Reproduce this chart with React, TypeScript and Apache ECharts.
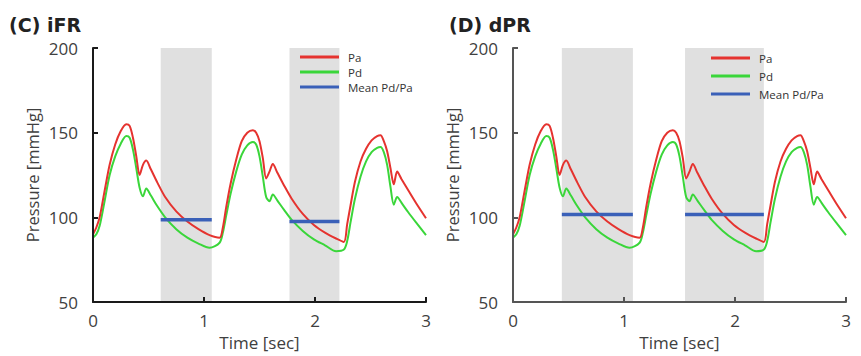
import React, { useEffect, useRef } from "react";
import * as echarts from "echarts";

// Time samples [s]
const TIME = [
  0, 0.03, 0.06, 0.1, 0.15, 0.2, 0.25, 0.3, 0.33, 0.36, 0.39, 0.42, 0.45, 0.48, 0.52, 0.58, 0.65, 0.75, 0.85, 0.95, 1.05, 1.14,
  1.17, 1.2, 1.24, 1.29, 1.34, 1.39, 1.44, 1.47, 1.5, 1.53, 1.56, 1.59, 1.62, 1.66, 1.72, 1.79, 1.89, 1.99, 2.09, 2.19, 2.26,
  2.29, 2.32, 2.36, 2.41, 2.46, 2.51, 2.56, 2.59, 2.62, 2.65, 2.68, 2.71, 2.74, 2.78, 2.84, 2.91, 3.0,
];

// Aortic pressure Pa [mmHg]
const PA = [
  90, 94, 100, 114, 131, 143, 151, 155, 154, 147, 136, 125, 131, 133.5, 128.5, 120.5, 112, 103.5, 97.5, 93, 89.5, 88,
  94, 106, 120, 134, 145, 150, 151.5, 150, 145, 135, 123, 127, 131.5, 126.5, 119, 111, 102, 95.5, 91, 87.5, 85.5,
  96, 107, 121, 133, 140.5, 145.5, 148, 148.5, 145, 139, 129, 119.5, 127, 122.5, 116, 108.5, 99.5,
];

// Distal pressure Pd [mmHg]
const PD = [
  88, 90, 95, 108, 125, 136, 143.5, 148, 147, 140, 129, 117.5, 112.5, 117, 113, 106.5, 100, 93, 88, 84.5, 82, 85,
  91, 101, 114, 127, 137, 142.5, 144.5, 143, 136, 124, 112, 109.5, 113.5, 110, 104.5, 98.5, 92, 87, 83.5, 80, 81,
  86, 97, 111, 124, 133, 138.5, 141, 141.5, 138.5, 131, 118, 107.5, 112, 108.5, 103, 97, 89.5,
];

// Wave-free / diastolic windows [start, end] in s, and mean Pd/Pa level
const IFR_WINDOWS = [
  [0.61, 1.07],
  [1.77, 2.22],
];
const IFR_MEANS = [98.5, 97.5];
const DPR_WINDOWS = [
  [0.44, 1.08],
  [1.55, 2.26],
];
const DPR_MEANS = [101.7, 101.7];

const X_TICKS = { min: 0, max: 3, interval: 1 };
const Y_TICKS = { min: 50, max: 200, interval: 50 };

const TITLES = ["(C) iFR", "(D) dPR"];
const LEGEND_NAMES = ["Pa", "Pd", "Mean Pd/Pa"];

const RED = "#e5332f";
const GREEN = "#3ad63a";
const BLUE = "#3a60b8";
const FONT = "'Open Sans', 'Noto Sans', sans-serif";

export default function App() {
  const ref = useRef<HTMLDivElement>(null);

  useEffect(() => {
    if (!ref.current) return;
    const chart = echarts.init(ref.current, undefined, { renderer: "svg" });

    const pa = TIME.map((t, i) => [t, PA[i]]);
    const pd = TIME.map((t, i) => [t, PD[i]]);

    const axisColors = ["#1a1a1a", "#555555"];

    const xAxes = [0, 1].map((g) => ({
      type: "value",
      gridIndex: g,
      ...X_TICKS,
      z: 5,
      axisLine: { show: true, onZero: false, lineStyle: { color: axisColors[g], width: 2 } },
      axisTick: { show: true, inside: true, length: 5, lineStyle: { color: axisColors[g], width: 2 } },
      splitLine: { show: false },
      axisLabel: { fontSize: 17, color: "#404040", margin: 10, fontFamily: FONT },
      name: "Time [sec]",
      nameLocation: "middle",
      nameGap: 31,
      nameTextStyle: { fontSize: 17, color: "#404040", fontFamily: FONT },
    }));

    const yAxes = [0, 1].map((g) => ({
      type: "value",
      gridIndex: g,
      ...Y_TICKS,
      z: 5,
      axisLine: { show: true, onZero: false, lineStyle: { color: axisColors[g], width: 2 } },
      axisTick: { show: true, inside: true, length: 5, lineStyle: { color: axisColors[g], width: 2 } },
      splitLine: { show: false },
      axisLabel: { fontSize: 17, color: "#404040", margin: 15, fontFamily: FONT },
      name: "Pressure [mmHg]",
      nameLocation: "middle",
      nameGap: 52,
      nameTextStyle: { fontSize: 16.5, color: "#404040", fontFamily: FONT },
    }));

    const panelSeries = (g: number, windows: number[][], means: number[]) => {
      const list: any[] = [];
      list.push({
        type: "line",
        name: "bg" + g,
        xAxisIndex: g,
        yAxisIndex: g,
        data: [],
        z: 1,
        clip: false,
        silent: true,
        markArea: {
          silent: true,
          itemStyle: { color: "#e0e0e0" },
          data: windows.map((w) => [
            { xAxis: w[0], yAxis: 50 },
            { xAxis: w[1], yAxis: 202 },
          ]),
        },
      });
      list.push({
        type: "line",
        name: "Pa",
        xAxisIndex: g,
        yAxisIndex: g,
        data: pa,
        showSymbol: false,
        smooth: 0.3,
        color: RED,
        lineStyle: { color: RED, width: 2 },
        z: 3,
      });
      list.push({
        type: "line",
        name: "Pd",
        xAxisIndex: g,
        yAxisIndex: g,
        data: pd,
        showSymbol: false,
        smooth: 0.3,
        color: GREEN,
        lineStyle: { color: GREEN, width: 2 },
        z: 2,
      });
      windows.forEach((w, k) => {
        list.push({
          type: "line",
          name: "Mean Pd/Pa",
          xAxisIndex: g,
          yAxisIndex: g,
          data: [
            [w[0], means[k]],
            [w[1], means[k]],
          ],
          showSymbol: false,
          color: BLUE,
          lineStyle: { color: BLUE, width: 3.5 },
          z: 4,
        });
      });
      return list;
    };

    const legendBase = {
      orient: "vertical",
      padding: 0,
      icon: "rect",
      itemWidth: 39,
      itemHeight: 3,
      data: LEGEND_NAMES,
      textStyle: { fontSize: 11.5, lineHeight: 12, color: "#333", fontFamily: FONT, padding: [0, 0, 0, 4] },
    };

    chart.setOption({
      animation: false,
      backgroundColor: "#ffffff",
      title: [
        {
          text: TITLES[0],
          left: 9,
          top: 15,
          padding: 0,
          textStyle: { fontSize: 19, fontWeight: "bold", color: "#222", fontFamily: "'DejaVu Sans', sans-serif" },
        },
        {
          text: TITLES[1],
          left: 449,
          top: 15,
          padding: 0,
          textStyle: { fontSize: 19, fontWeight: "bold", color: "#222", fontFamily: "'DejaVu Sans', sans-serif" },
        },
      ],
      legend: [
        { ...legendBase, left: 300, top: 51, itemGap: 3 },
        { ...legendBase, left: 711, top: 52, itemGap: 6 },
      ],
      grid: [
        { left: 93, top: 48, width: 333, bottom: 54 },
        { left: 513, top: 48, width: 333, bottom: 54 },
      ],
      xAxis: xAxes,
      yAxis: yAxes,
      series: [...panelSeries(0, IFR_WINDOWS, IFR_MEANS), ...panelSeries(1, DPR_WINDOWS, DPR_MEANS)],
    });

    return () => chart.dispose();
  }, []);

  return (
    <div
      ref={ref}
      style={{ position: "fixed", left: 0, top: 0, width: 861, height: 356, background: "#fff" }}
    />
  );
}
